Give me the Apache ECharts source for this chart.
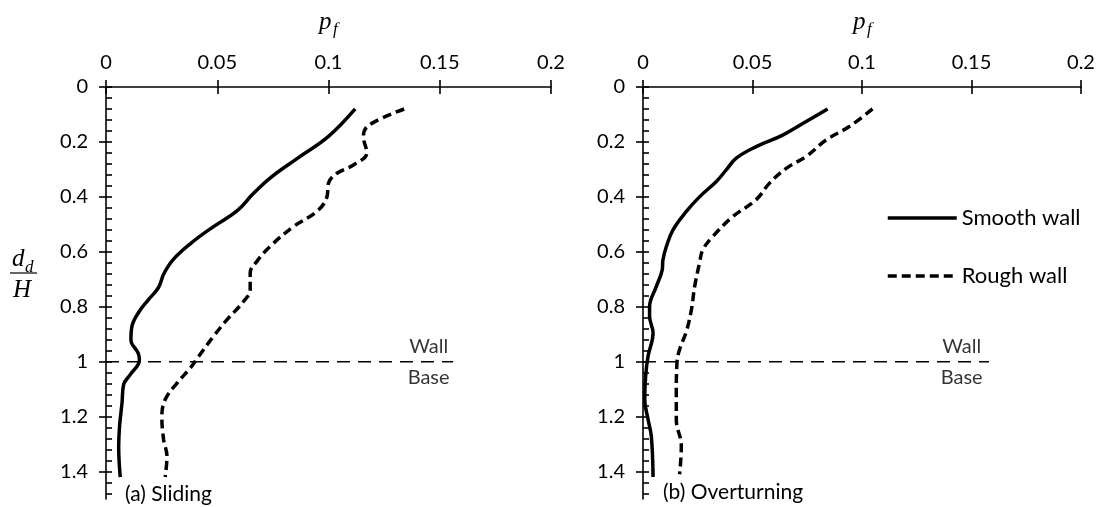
<!DOCTYPE html>
<html><head><meta charset="utf-8">
<script src="https://cdn.jsdelivr.net/npm/echarts@6/dist/echarts.min.js"></script>
<style>html,body{margin:0;padding:0;background:#fff}#c{width:1101px;height:507px}</style>
</head><body><div id="c"></div>
<script>
// ---- data ----
const xTickValues = [0, 0.05, 0.1, 0.15, 0.2];
const yTickValues = [0, 0.2, 0.4, 0.6, 0.8, 1, 1.2, 1.4];
const seriesNames = ['Smooth wall', 'Rough wall'];
const panelTitles = ['(a) Sliding', '(b) Overturning'];
const wallLabels = ['Wall', 'Base'];

// [p_f, d_d/H]
const slidingSmooth = [[0.112,0.08],[0.1,0.18],[0.086,0.26],[0.074,0.33],[0.066,0.39],[0.059,0.45],[0.048,0.51],[0.038,0.57],[0.030,0.63],[0.026,0.68],[0.0236,0.73],[0.019,0.775],[0.0147,0.82],[0.0117,0.87],[0.0112,0.92],[0.0145,0.97],[0.015,0.995],[0.0109,1.047],[0.0079,1.084],[0.0072,1.15],[0.0061,1.235],[0.0057,1.31],[0.0064,1.42]];
const slidingRough = [[0.134,0.08],[0.118,0.14],[0.1157,0.18],[0.1172,0.24],[0.1112,0.284],[0.1038,0.314],[0.1,0.35],[0.0993,0.40],[0.0948,0.453],[0.0843,0.508],[0.0738,0.58],[0.0678,0.635],[0.0648,0.677],[0.0648,0.738],[0.0618,0.781],[0.0544,0.847],[0.0483,0.908],[0.0416,0.981],[0.0379,1.023],[0.0319,1.078],[0.0266,1.138],[0.0251,1.2],[0.0259,1.284],[0.0274,1.344],[0.0266,1.42]];
const overturnSmooth = [[0.0843,0.08],[0.0745,0.126],[0.0638,0.175],[0.0517,0.217],[0.0426,0.259],[0.038,0.302],[0.0335,0.344],[0.0258,0.4],[0.0198,0.453],[0.0137,0.52],[0.0107,0.58],[0.0091,0.63],[0.0088,0.665],[0.0061,0.726],[0.003,0.8],[0.003,0.835],[0.0046,0.896],[0.0023,0.98],[0.0012,1.053],[0.0008,1.138],[0.0023,1.21],[0.0038,1.272],[0.0046,1.42]];
const overturnRough = [[0.1048,0.08],[0.0942,0.144],[0.0836,0.193],[0.0745,0.253],[0.0654,0.296],[0.0578,0.35],[0.0517,0.41],[0.041,0.472],[0.0319,0.544],[0.0273,0.593],[0.0258,0.641],[0.0236,0.726],[0.0221,0.811],[0.0198,0.89],[0.0167,0.956],[0.0155,1.005],[0.0152,1.114],[0.0152,1.21],[0.0175,1.308],[0.0167,1.41]];
const wallLevel = 1;
const wallLineEnd = [0.156, 0.158];
const wallLabelX = [0.145, 0.1455];

// ---- style ----
const FONT = 'Lato, "Open Sans", sans-serif';
const SERIF = '"Liberation Serif", "DejaVu Serif", serif';
const BLACK = '#000';
const CURVE_W = 3.5;
const DASH = [9, 5];
const yMinorTicks = [];
for (let i = 0; i <= 37; i++) yMinorTicks.push(+(i * 0.04).toFixed(2));

const grids = [
  {left: 106, top: 87, width: 445, height: 412},
  {left: 643, top: 87, width: 438, height: 412}
];
const xAxes = [], yAxes = [];
grids.forEach((g, i) => {
  xAxes.push({gridIndex: i, type: 'value', position: 'top', min: 0, max: 0.2, interval: 0.05,
    axisLine: {onZero: false, lineStyle: {color: BLACK, width: 1.6}},
    axisTick: {length: 7, lineStyle: {color: BLACK, width: 1.6}},
    axisLabel: {customValues: xTickValues, margin: 14, fontSize: 20, fontFamily: FONT, color: BLACK,
      formatter: v => String(+(+v).toFixed(2))},
    splitLine: {show: false}});
  xAxes.push({gridIndex: i, type: 'value', position: 'top', min: 0, max: 0.2, interval: 0.05,
    axisLine: {show: false, onZero: false},
    axisTick: {inside: true, length: 7, lineStyle: {color: BLACK, width: 1.6}},
    axisLabel: {show: false}, splitLine: {show: false}});
  yAxes.push({gridIndex: i, type: 'value', position: 'left', inverse: true, min: 0, max: 1.5,
    axisLine: {onZero: false, lineStyle: {color: BLACK, width: 1.6}},
    axisTick: {customValues: yTickValues, length: 7, lineStyle: {color: BLACK, width: 1.6}},
    axisLabel: {customValues: yTickValues, margin: 18, fontSize: 20, fontFamily: FONT, color: BLACK,
      formatter: v => String(+(+v).toFixed(2))},
    splitLine: {show: false}});
  yAxes.push({gridIndex: i, type: 'value', position: 'left', inverse: true, min: 0, max: 1.5,
    axisLine: {show: false, onZero: false},
    axisTick: {inside: true, customValues: yMinorTicks, length: 6, lineStyle: {color: BLACK, width: 1.6}},
    axisLabel: {show: false}, splitLine: {show: false}});
});

const panelData = [[slidingSmooth, slidingRough], [overturnSmooth, overturnRough]];
const series = [];
panelData.forEach((pair, p) => {
  const ax = {xAxisIndex: 2 * p, yAxisIndex: 2 * p};
  series.push(Object.assign({type: 'line', name: seriesNames[0], data: pair[0], smooth: 0.4, symbol: 'none',
    lineStyle: {color: BLACK, width: CURVE_W}, itemStyle: {color: BLACK}, silent: true, z: 4}, ax));
  series.push(Object.assign({type: 'line', name: seriesNames[1], data: pair[1], smooth: 0.4, symbol: 'none',
    lineStyle: {color: BLACK, width: CURVE_W, type: DASH}, itemStyle: {color: BLACK}, silent: true, z: 4}, ax));
  series.push(Object.assign({type: 'line', name: 'wall' + p, data: [[0, wallLevel], [wallLineEnd[p], wallLevel]],
    symbol: 'none', lineStyle: {color: BLACK, width: 1.5, type: [13, 8]}, silent: true, z: 3}, ax));
  wallLabels.forEach((t, k) => {
    series.push(Object.assign({type: 'scatter', name: 'lbl' + p + k, data: [[wallLabelX[p], wallLevel]],
      symbol: 'circle', symbolSize: 1, itemStyle: {color: 'rgba(0,0,0,0)'}, silent: true,
      label: {show: true, formatter: t, position: k === 0 ? 'top' : 'bottom', distance: 5,
        fontSize: 20, fontFamily: FONT, color: BLACK}}, ax));
  });
});

const legendBase = {orient: 'vertical', left: 886, padding: 0, itemWidth: 69, itemHeight: 20, selectedMode: false,
  itemStyle: {opacity: 0, color: 'rgba(0,0,0,0)', borderWidth: 0},
  textStyle: {fontSize: 22, fontFamily: FONT, color: BLACK}};
const legends = [
  Object.assign({}, legendBase, {data: [seriesNames[0]], top: 207,
    lineStyle: {color: BLACK, width: CURVE_W, type: 'solid', opacity: 1}}),
  Object.assign({}, legendBase, {data: [seriesNames[1]], top: 265,
    lineStyle: {color: BLACK, width: CURVE_W, type: DASH, opacity: 1}})
];

const graphics = [];
const titleStarts = [319, 853];
titleStarts.forEach(x0 => {
  graphics.push({type: 'text', left: x0, top: 10, style: {text: 'p', font: 'italic 25px ' + SERIF, fill: BLACK}});
  graphics.push({type: 'text', left: x0 + 14, top: 21, style: {text: 'f', font: 'italic 17px ' + SERIF, fill: BLACK}});
});
graphics.push({type: 'text', left: 12, top: 247, style: {text: 'd', font: 'italic 25px ' + SERIF, fill: BLACK}});
graphics.push({type: 'text', left: 25, top: 259, style: {text: 'd', font: 'italic 17px ' + SERIF, fill: BLACK}});
graphics.push({type: 'line', shape: {x1: 10, y1: 273, x2: 37, y2: 273}, style: {stroke: BLACK, lineWidth: 1.2}});
graphics.push({type: 'text', left: 13, top: 278, style: {text: 'H', font: 'italic 25px ' + SERIF, fill: BLACK}});
graphics.push({type: 'text', left: 125, top: 484, style: {text: panelTitles[0], font: '21px ' + FONT, fill: BLACK}});
graphics.push({type: 'text', left: 663, top: 482, style: {text: panelTitles[1], font: '21px ' + FONT, fill: BLACK}});

const chart = echarts.init(document.getElementById('c'), null, {renderer: 'canvas'});
chart.setOption({
  animation: false,
  backgroundColor: '#fff',
  grid: grids,
  xAxis: xAxes,
  yAxis: yAxes,
  legend: legends,
  series: series,
  graphic: graphics
});
</script></body></html>
